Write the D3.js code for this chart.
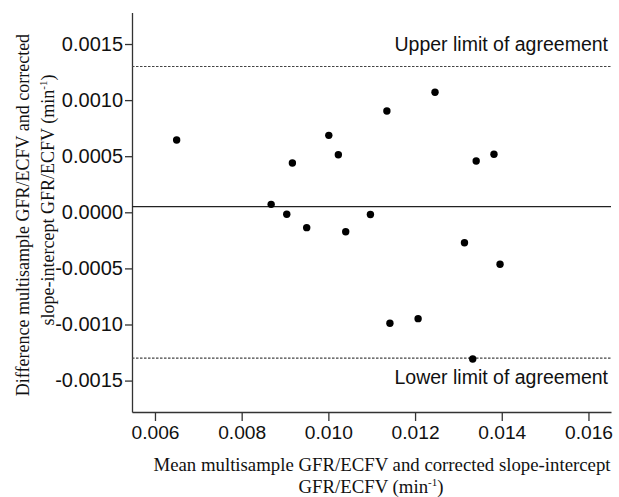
<!DOCTYPE html>
<html>
<head>
<meta charset="utf-8">
<script src="https://cdn.jsdelivr.net/npm/d3@7/dist/d3.min.js"></script>
<style>
  html, body { margin: 0; padding: 0; background: #fff; }
  svg { display: block; }
</style>
</head>
<body>
<svg id="chart" width="619" height="497"></svg>
<script>
// ---- data ----
const meanValues = [0.00650, 0.00868, 0.00904, 0.00917, 0.00950, 0.01001, 0.01023, 0.01040, 0.01097,
                    0.01135, 0.01246, 0.01341, 0.01382, 0.01314, 0.01396, 0.01142, 0.01207, 0.01333];
const diffValues = [0.000644, 0.000071, -0.000018, 0.000439, -0.000137, 0.000686, 0.000513, -0.000173, -0.000020,
                    0.000903, 0.001070, 0.000457, 0.000517, -0.000271, -0.000463, -0.000989, -0.000948, -0.001307];
const xTicks = [0.006, 0.008, 0.010, 0.012, 0.014, 0.016];
const yTicks = [0.0015, 0.0010, 0.0005, 0.0000, -0.0005, -0.0010, -0.0015];
const biasValue = 0.00005;
const limitValues = [0.00130, -0.00130];
const limitLabels = ["Upper limit of agreement", "Lower limit of agreement"];

// ---- layout ----
const svg = d3.select("#chart");
const mLeft = 132, mRight = 611, mTop = 12.6, mBottom = 412;

const x = d3.scaleLinear().domain([0.00547, 0.01652]).range([mLeft, mRight]);
const y = d3.scaleLinear().domain([-0.00178, 0.00178]).range([mBottom, mTop]);

const sans = "'Liberation Sans', Arial, sans-serif";
const serif = "'Liberation Serif', 'Times New Roman', serif";

// axes
const xAxis = d3.axisBottom(x).tickValues(xTicks).tickFormat(d3.format(".3f")).tickSize(9).tickSizeOuter(0).tickPadding(4);
const yAxis = d3.axisLeft(y).tickValues(yTicks).tickFormat(d3.format(".4f")).tickSize(7).tickSizeOuter(0).tickPadding(2);

const gx = svg.append("g").attr("transform", `translate(0,${mBottom})`).call(xAxis);
const gy = svg.append("g").attr("transform", `translate(${mLeft},0)`).call(yAxis);

[gx, gy].forEach(g => {
  g.select(".domain").attr("stroke", "#333").attr("stroke-width", 1.3);
  g.selectAll(".tick line").attr("stroke", "#333").attr("stroke-width", 1.3);
  g.selectAll(".tick text").attr("fill", "#111").style("font-family", sans);
});
gx.selectAll(".tick text").style("font-size", "19.2px").attr("dy", "0.71em");
gy.selectAll(".tick text").style("font-size", "20px")
  .text(d => d3.format(".4f")(d).replace("−", "-"));

// bias line
svg.append("line")
  .attr("x1", mLeft).attr("x2", mRight)
  .attr("y1", y(biasValue)).attr("y2", y(biasValue))
  .attr("stroke", "#222").attr("stroke-width", 1.3);

// limits of agreement
svg.selectAll("line.limit").data(limitValues).enter().append("line")
  .attr("class", "limit")
  .attr("x1", mLeft).attr("x2", mRight)
  .attr("y1", d => y(d)).attr("y2", d => y(d))
  .attr("stroke", "#444").attr("stroke-width", 1.1)
  .attr("stroke-dasharray", "2.5,1.5");

svg.selectAll("text.limitlabel").data(limitValues).enter().append("text")
  .attr("class", "limitlabel")
  .attr("x", 608)
  .attr("y", (d, i) => i === 0 ? y(d) - 15 : y(d) + 26)
  .attr("text-anchor", "end")
  .style("font-family", sans).style("font-size", "19.5px").attr("fill", "#111")
  .text((d, i) => limitLabels[i]);

// points
svg.selectAll("circle.pt").data(meanValues).enter().append("circle")
  .attr("class", "pt")
  .attr("cx", d => x(d))
  .attr("cy", (d, i) => y(diffValues[i]))
  .attr("r", 3.7)
  .attr("fill", "#000");

// x-axis title
svg.append("text").attr("x", 382).attr("y", 471).attr("text-anchor", "middle")
  .style("font-family", serif).style("font-size", "18.8px").attr("fill", "#111")
  .text("Mean multisample GFR/ECFV and corrected slope-intercept");
const xt2 = svg.append("text").attr("x", 371).attr("y", 493).attr("text-anchor", "middle")
  .style("font-family", serif).style("font-size", "18.8px").attr("fill", "#111");
xt2.append("tspan").text("GFR/ECFV (min");
xt2.append("tspan").attr("dy", -7).style("font-size", "11px").text("-1");
xt2.append("tspan").attr("dy", 7).text(")");

// y-axis title (two rotated lines)
svg.append("text").attr("transform", "translate(29,215) rotate(-90)").attr("text-anchor", "middle")
  .style("font-family", serif).style("font-size", "18px").attr("fill", "#111")
  .text("Difference multisample GFR/ECFV and corrected");
const yt2 = svg.append("text").attr("transform", "translate(54,200) rotate(-90)").attr("text-anchor", "middle")
  .style("font-family", serif).style("font-size", "18px").attr("fill", "#111");
yt2.append("tspan").text("slope-intercept GFR/ECFV (min");
yt2.append("tspan").attr("dy", -7).style("font-size", "11px").text("-1");
yt2.append("tspan").attr("dy", 7).text(")");
</script>
</body>
</html>
